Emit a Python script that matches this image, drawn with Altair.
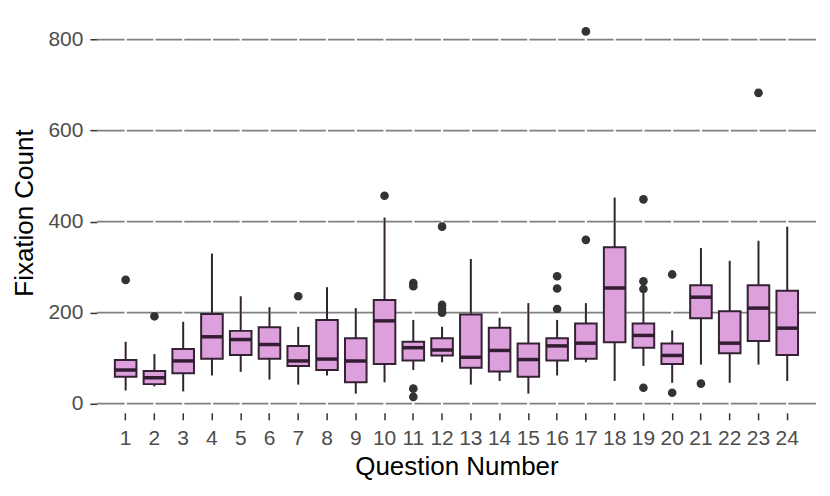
import altair as alt
import pandas as pd

# Box statistics per question
questions = list(range(1, 25))
whisker_low = [29, 38, 27, 62, 70, 53, 42, 62, 22, 47, 74, 91, 42, 50, 22, 62, 91, 50, 83, 46, 86, 46, 86, 50]
q1 =          [59, 43, 67, 99, 107, 99, 83, 74, 47, 87, 95, 106, 79, 71, 59, 95, 99, 135, 123, 87, 188, 111, 138, 107]
median =      [74, 57, 94, 147, 141, 130, 94, 98, 94, 182, 123, 118, 102, 117, 97, 127, 133, 254, 150, 106, 234, 133, 210, 166]
q3 =          [96, 72, 120, 197, 160, 168, 127, 184, 144, 228, 136, 144, 196, 167, 132, 144, 176, 344, 176, 132, 260, 203, 260, 248]
whisker_high = [136, 109, 180, 330, 236, 212, 169, 256, 210, 409, 184, 169, 318, 189, 221, 184, 221, 453, 243, 161, 342, 314, 358, 389]

# Outliers
outlier_q =     [1, 2, 7, 10, 11, 11, 11, 11, 12, 12, 12, 12, 16, 16, 16, 17, 17, 19, 19, 19, 19, 20, 20, 21, 23]
outlier_value = [272, 192, 236, 457, 265, 258, 33, 15, 389, 217, 208, 200, 280, 253, 208, 360, 818, 449, 269, 252, 35, 284, 24, 44, 683]

y_ticks = [0, 200, 400, 600, 800]

box_df = pd.DataFrame({
    "q": questions, "lo": whisker_low, "q1": q1, "med": median, "q3": q3, "hi": whisker_high,
})
out_df = pd.DataFrame({"q": outlier_q, "v": outlier_value})
grid_df = pd.DataFrame({"g": y_ticks})
vgrid_df = pd.DataFrame({"q": questions})

x_scale = alt.Scale(domain=questions, paddingInner=0.25, paddingOuter=0.625)
y_scale = alt.Scale(domain=[-20, 860], nice=False, zero=False)

x_enc = alt.X(
    "q:O", scale=x_scale,
    axis=alt.Axis(title="Question Number", labelAngle=0, grid=False, domain=False,
                  tickSize=7, tickWidth=1.5, tickColor="#333333", labelPadding=8,
                  labelColor="#4D4D4D", labelFontSize=21, titleFontSize=26,
                  titleColor="#000000", titleFontWeight="normal", titlePadding=5),
)
y_axis = alt.Axis(title="Fixation Count", values=y_ticks, grid=False, domain=False,
                  tickSize=7, tickWidth=1.5, tickColor="#333333", labelPadding=7,
                  labelColor="#4D4D4D", labelFontSize=21, titleFontSize=26,
                  titleColor="#000000", titleFontWeight="normal", titlePadding=10)

hgrid = alt.Chart(grid_df).mark_rule(color="#808080", strokeWidth=1.8).encode(
    y=alt.Y("g:Q", scale=y_scale, axis=y_axis)
)
vgrid = alt.Chart(vgrid_df).mark_rule(color="#FFFFFF", strokeWidth=2.2).encode(
    x=x_enc
)
whisk = alt.Chart(box_df).mark_rule(color="#332233", strokeWidth=2).encode(
    x=alt.X("q:O", scale=x_scale),
    y=alt.Y("lo:Q", scale=y_scale),
    y2="hi:Q",
)
boxes = alt.Chart(box_df).mark_bar(fill="#DDA0DD", stroke="#332233", strokeWidth=2, opacity=1).encode(
    x=alt.X("q:O", scale=x_scale),
    y=alt.Y("q1:Q", scale=y_scale),
    y2="q3:Q",
)
med = alt.Chart(box_df).mark_tick(color="#331D33", thickness=3.5, size=22, opacity=1).encode(
    x=alt.X("q:O", scale=x_scale),
    y=alt.Y("med:Q", scale=y_scale),
)
pts = alt.Chart(out_df).mark_circle(color="#333333", opacity=1, size=75).encode(
    x=alt.X("q:O", scale=x_scale),
    y=alt.Y("v:Q", scale=y_scale),
)

chart = alt.layer(hgrid, vgrid, whisk, boxes, med, pts).properties(
    width=720, height=401,
    autosize=alt.AutoSizeParams(type="none"),
    padding={"left": 89, "top": 4, "right": 6, "bottom": 75},
).configure(font="Liberation Sans").configure_view(stroke=None)

chart.save("out.html", embed_options={"renderer": "svg", "actions": False})
